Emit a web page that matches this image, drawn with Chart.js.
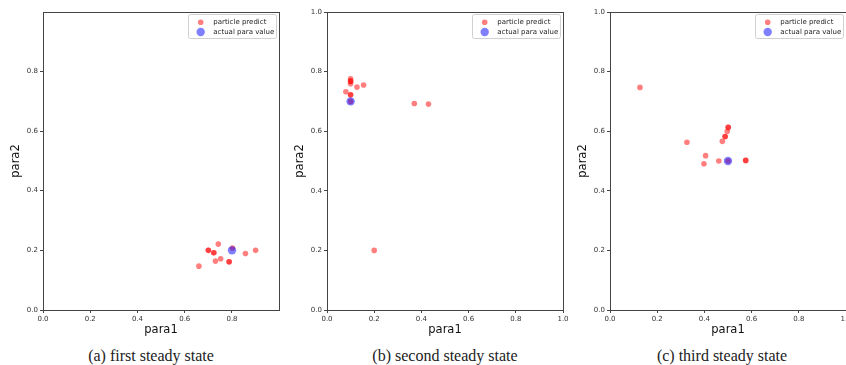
<!DOCTYPE html>
<html>
<head>
<meta charset="utf-8">
<script src="https://cdn.jsdelivr.net/npm/chart.js@4"></script>
<style>
  body { margin: 0; width: 846px; height: 365px; overflow: hidden; background: #fff; position: relative; }
  canvas { position: absolute; top: 0; }
  .cap { position: absolute; top: 346px; width: 200px; line-height: 20px; text-align: center;
         font-family: "Liberation Serif", serif; font-size: 16px; color: #222; }
</style>
</head>
<body>
<canvas id="chartA" width="290" height="340" style="left:0px"></canvas>
<canvas id="chartB" width="290" height="340" style="left:284px"></canvas>
<canvas id="chartC" width="290" height="340" style="left:567px"></canvas>
<div class="cap" style="left:51px">(a) first steady state</div>
<div class="cap" style="left:345px">(b) second steady state</div>
<div class="cap" style="left:622px">(c) third steady state</div>

<script>
// tick labels
var ticksShort = [0, 0.2, 0.4, 0.6, 0.8];
var ticksFull = [0, 0.2, 0.4, 0.6, 0.8, 1.0];

// (a) first steady state
var predAx = [0.66, 0.70, 0.70, 0.723, 0.723, 0.742, 0.730, 0.752, 0.788, 0.788, 0.802, 0.857, 0.90];
var predAy = [0.147, 0.200, 0.200, 0.192, 0.192, 0.221, 0.164, 0.172, 0.162, 0.162, 0.208, 0.189, 0.200];
var actualA = [0.8, 0.2];

// (b) second steady state
var predBx = [0.10, 0.10, 0.10, 0.10, 0.127, 0.155, 0.08, 0.10, 0.10, 0.10, 0.37, 0.43, 0.20];
var predBy = [0.776, 0.768, 0.768, 0.759, 0.748, 0.755, 0.732, 0.722, 0.722, 0.700, 0.693, 0.691, 0.200];
var actualB = [0.1, 0.7];

// (c) third steady state
var predCx = [0.127, 0.326, 0.405, 0.398, 0.461, 0.476, 0.488, 0.488, 0.497, 0.501, 0.501, 0.50, 0.575, 0.575];
var predCy = [0.747, 0.563, 0.518, 0.491, 0.500, 0.566, 0.582, 0.582, 0.600, 0.613, 0.613, 0.50, 0.502, 0.502];
var actualC = [0.5, 0.5];

var seriesLabels = ['particle predict', 'actual para value'];

Chart.defaults.font.family = '"DejaVu Sans", sans-serif';

// box around the plot area, like matplotlib spines
var framePlugin = {
  id: 'frame',
  afterDatasetsDraw: function (chart) {
    var a = chart.chartArea;
    var ctx = chart.ctx;
    ctx.save();
    ctx.strokeStyle = '#444';
    ctx.lineWidth = 1;
    ctx.strokeRect(Math.round(a.left) + 0.5, Math.round(a.top) + 0.5, Math.round(a.right - a.left), Math.round(a.bottom - a.top));
    ctx.restore();
  }
};

// legend in the upper right corner of the plot area
var legendPlugin = {
  id: 'cornerLegend',
  afterDraw: function (chart) {
    var a = chart.chartArea;
    var ctx = chart.ctx;
    var w = 88, h = 24;
    var x = a.right - 3 - w;
    var y = a.top + 2;
    ctx.save();
    ctx.beginPath();
    ctx.roundRect(x + 0.5, y + 0.5, w, h, 2);
    ctx.fillStyle = 'rgba(255,255,255,0.8)';
    ctx.fill();
    ctx.strokeStyle = '#d0d0d0';
    ctx.lineWidth = 1;
    ctx.stroke();
    ctx.font = '7px "DejaVu Sans", sans-serif';
    ctx.textBaseline = 'middle';
    chart.data.datasets.forEach(function (ds, i) {
      var cy = y + 8.3 + i * 9.7;
      ctx.beginPath();
      ctx.arc(x + 12.7, cy, ds.pointRadius, 0, Math.PI * 2);
      ctx.fillStyle = ds.backgroundColor;
      ctx.fill();
      ctx.fillStyle = '#222';
      ctx.fillText(ds.label, x + 25.3, cy);
    });
    ctx.restore();
  }
};

function toPoints(xs, ys) {
  return xs.map(function (x, i) { return { x: x, y: ys[i] }; });
}

function axis(title, tickList, max, isY) {
  return {
    type: 'linear',
    min: 0,
    max: max,
    afterBuildTicks: function (scale) {
      scale.ticks = tickList.map(function (v) { return { value: v }; });
    },
    afterFit: function (scale) {
      if (isY) {
        scale.width = 43;
      } else {
        scale.height = 30;
      }
    },
    title: {
      display: true,
      text: title,
      color: '#111',
      font: { size: 11.5 },
      padding: isY ? { top: 9.2, bottom: 0 } : { top: 0, bottom: 3.5 }
    },
    grid: { drawOnChartArea: false, tickLength: 3, tickColor: '#444' },
    border: { display: true, color: '#444' },
    ticks: {
      color: '#333',
      font: { size: 7 },
      padding: 2,
      autoSkip: false,
      maxRotation: 0,
      callback: function (v) { return Number(v).toFixed(1); }
    }
  };
}

function makeChart(id, predX, predY, actual, xTicks, xMax, yTicks, yMax) {
  new Chart(document.getElementById(id), {
    type: 'scatter',
    data: {
      datasets: [
        {
          label: seriesLabels[0],
          data: toPoints(predX, predY),
          backgroundColor: 'rgba(255,0,0,0.5)',
          borderWidth: 0,
          pointRadius: 2.8,
          order: 1
        },
        {
          label: seriesLabels[1],
          data: [{ x: actual[0], y: actual[1] }],
          backgroundColor: 'rgba(0,0,255,0.5)',
          borderWidth: 0,
          pointRadius: 4.2,
          order: 0
        }
      ]
    },
    options: {
      responsive: false,
      animation: false,
      devicePixelRatio: 1,
      layout: { padding: { left: 0, top: 12, right: 11, bottom: 0 } },
      plugins: {
        legend: { display: false },
        tooltip: { enabled: false }
      },
      scales: {
        x: axis('para1', xTicks, xMax, false),
        y: axis('para2', yTicks, yMax, true)
      }
    },
    plugins: [framePlugin, legendPlugin]
  });
}

makeChart('chartA', predAx, predAy, actualA, ticksShort, 0.999, ticksShort, 0.999);
makeChart('chartB', predBx, predBy, actualB, ticksFull, 1.0, ticksFull, 1.0);
makeChart('chartC', predCx, predCy, actualC, ticksFull, 1.0, ticksFull, 1.0);
</script>
</body>
</html>
